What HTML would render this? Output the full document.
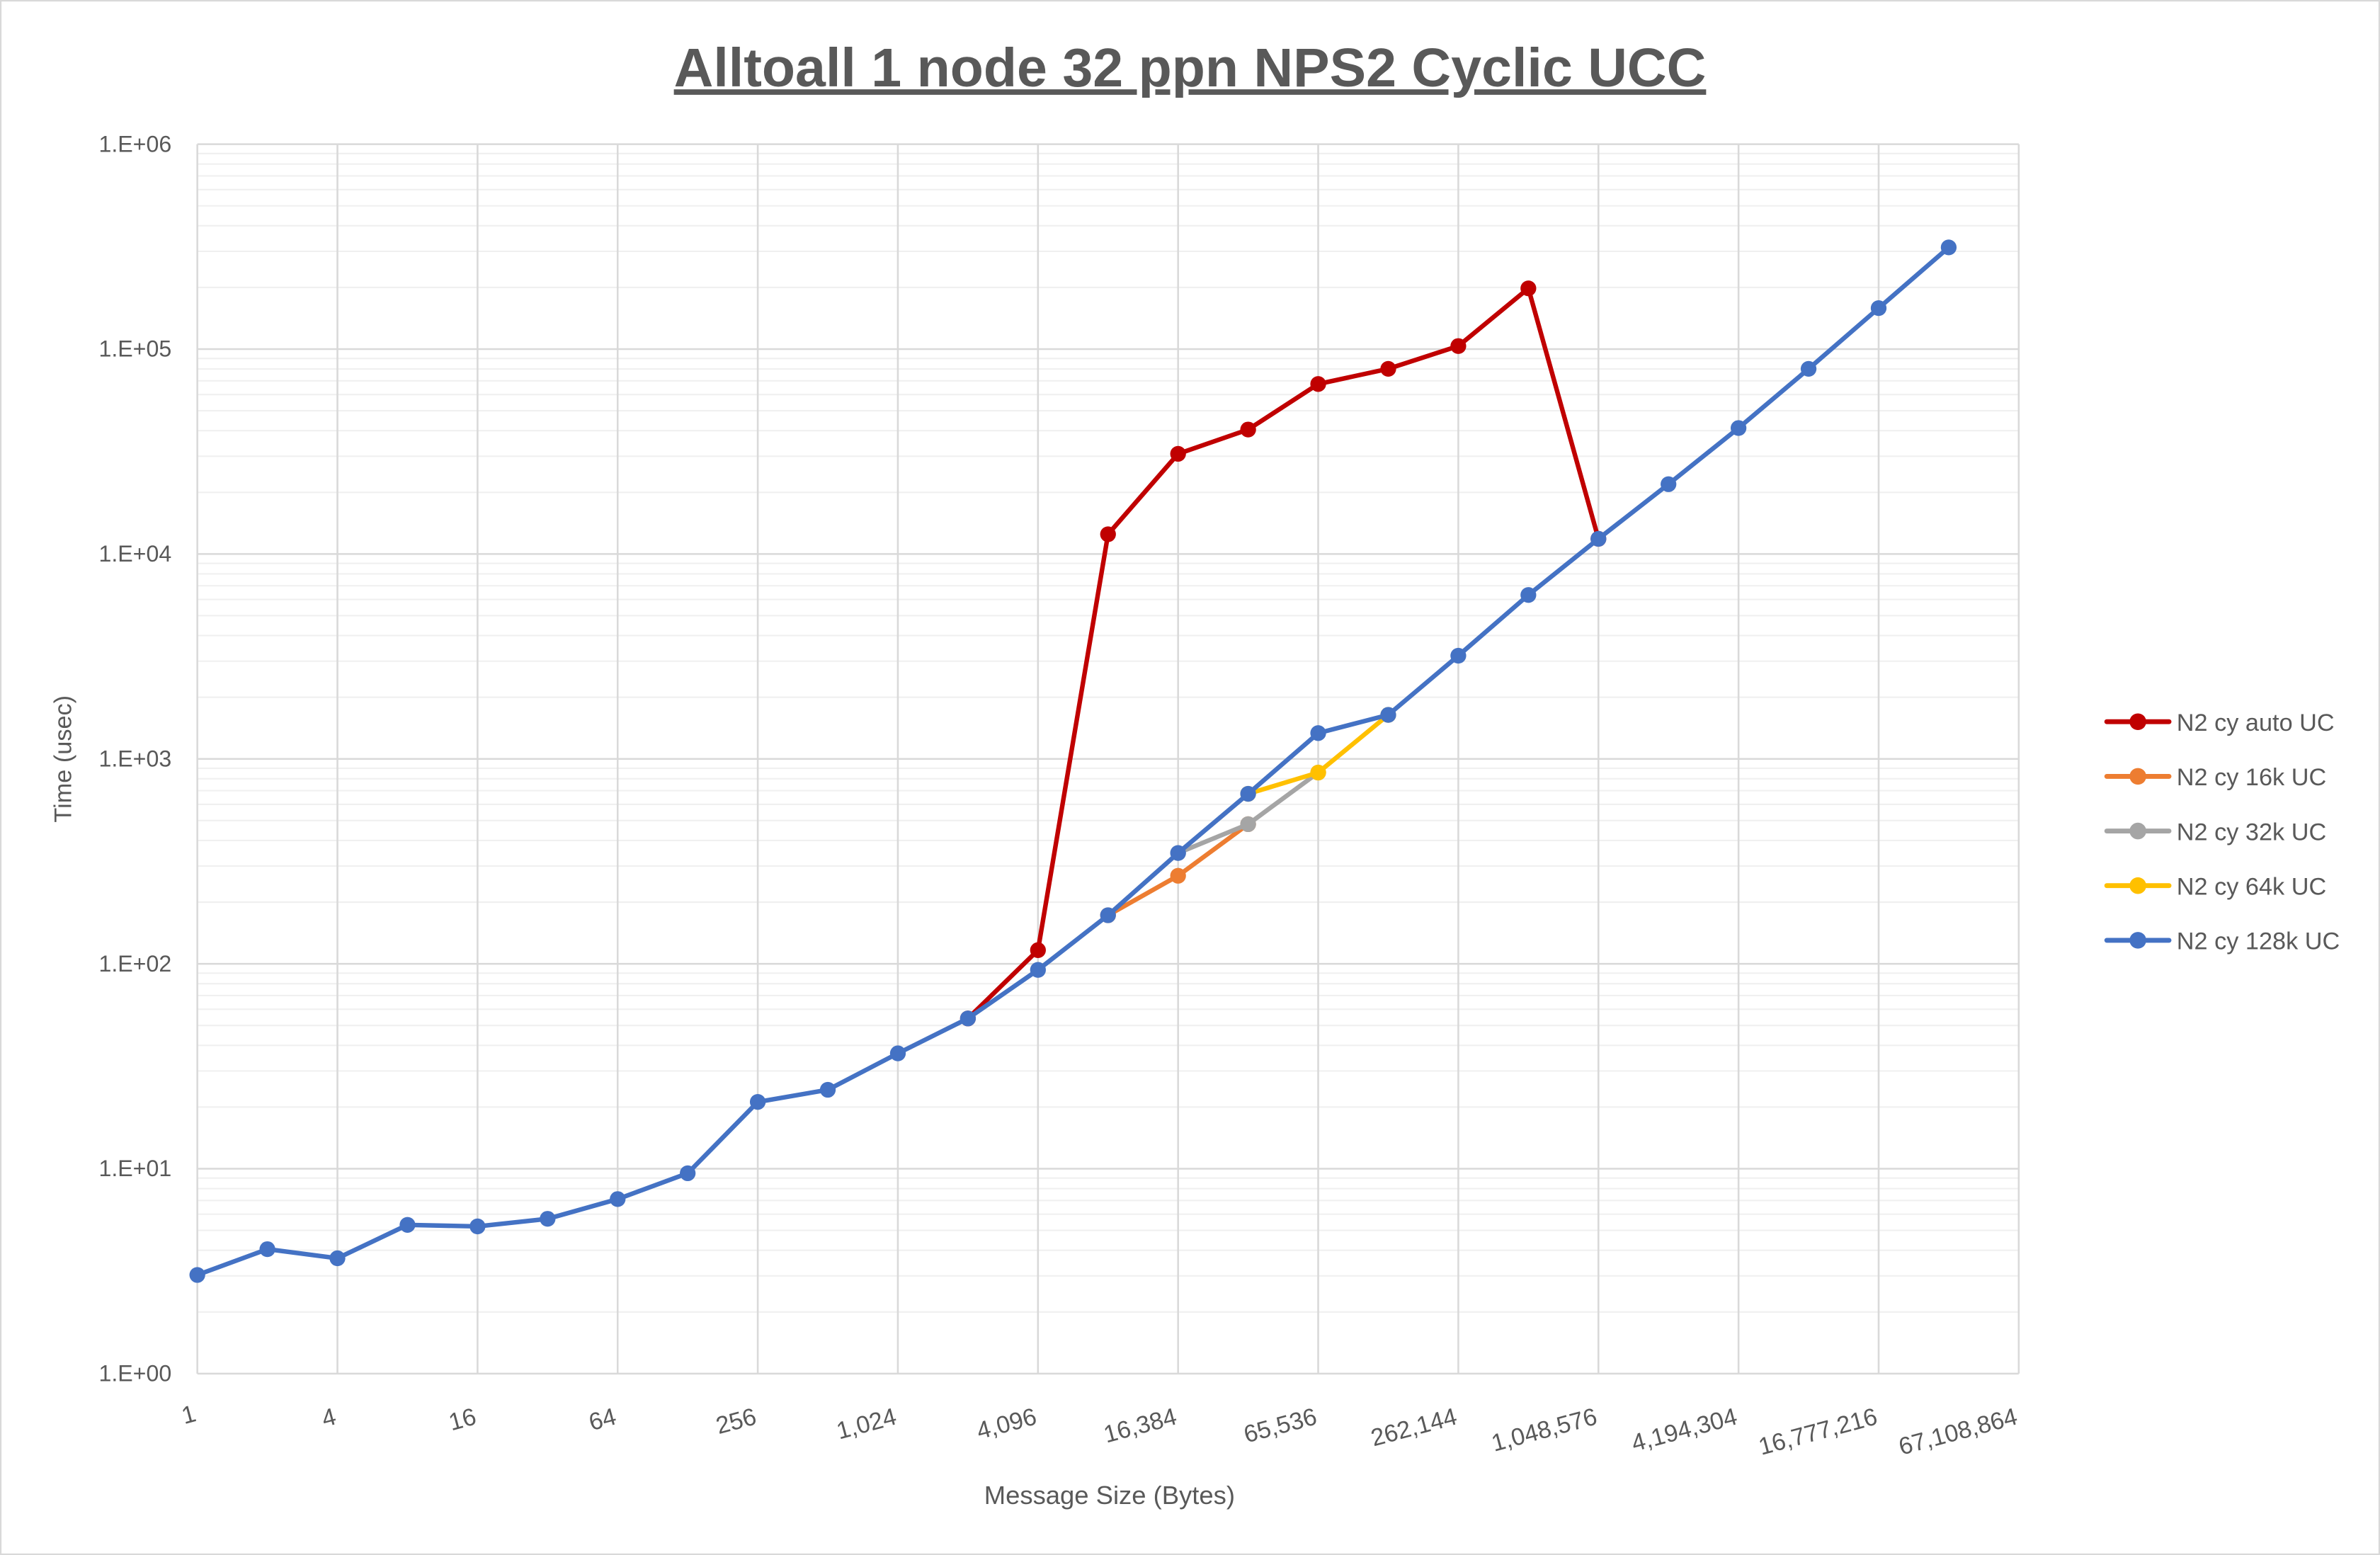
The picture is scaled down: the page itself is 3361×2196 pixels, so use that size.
<!DOCTYPE html>
<html><head><meta charset="utf-8"><style>
html,body{margin:0;padding:0;background:#fff}
svg{display:block}
text{font-family:"Liberation Sans",sans-serif;fill:#595959}
</style></head><body>
<svg id="c" width="3361" height="2196" viewBox="0 0 1568 1024.5" preserveAspectRatio="none" xmlns="http://www.w3.org/2000/svg">
<rect x="0.5" y="0.5" width="1567" height="1023.5" fill="#fff" stroke="#d9d9d9" stroke-width="1"/>
<text x="784" y="57" font-size="36" font-weight="bold" text-anchor="middle" text-decoration="underline">Alltoall 1 node 32 ppn NPS2 Cyclic UCC</text>
<g id="grid"></g>
<g id="series"></g>
<text transform="translate(47,500) rotate(-90)" font-size="16" text-anchor="middle">Time (usec)</text>
<text x="731" y="991" font-size="17" text-anchor="middle">Message Size (Bytes)</text>
<g id="leg"></g>
</svg>
<script>
const NS="http://www.w3.org/2000/svg";
function el(p,t,a,txt){const e=document.createElementNS(NS,t);for(const k in a)e.setAttribute(k,a[k]);if(txt!==undefined)e.textContent=txt;p.appendChild(e);return e;}
const g=document.getElementById('grid'),s=document.getElementById('series'),L=document.getElementById('leg');
const X0=130,X1=1330,Y0=905,D=135,step=(X1-X0)/26;
for(let d=0;d<6;d++)for(let m=2;m<10;m++){const y=Y0-D*(d+Math.log10(m));el(g,'line',{x1:X0,x2:X1,y1:y,y2:y,stroke:'#f0f0f0','stroke-width':1});}
for(let d=0;d<=6;d++){const y=Y0-D*d;el(g,'line',{x1:X0,x2:X1,y1:y,y2:y,stroke:'#d9d9d9','stroke-width':1.2});
 el(g,'text',{x:113,y:y+5,'font-size':15,'text-anchor':'end'},'1.E+0'+d);}
const xl=['1','4','16','64','256','1,024','4,096','16,384','65,536','262,144','1,048,576','4,194,304','16,777,216','67,108,864'];
for(let i=0;i<=13;i++){const x=X0+i*2*step;el(g,'line',{x1:x,x2:x,y1:Y0-D*6,y2:Y0,stroke:'#d9d9d9','stroke-width':1.2});
 el(g,'text',{transform:`translate(${x+(i==0?0:0)},${i==0?936:938}) rotate(-15)`,'font-size':16,'text-anchor':'end'},xl[i]);}
const blue=[840,823,829,807,808,803,790,773,726,718,694,671,639,603,562,523,483,471,432,392,355,319,282,243,203,163];
const ser=[
 {c:'#c00000',n:'N2 cy auto UC',p:[[11,671],[12,626],[13,352],[14,299],[15,283],[16,253],[17,243],[18,228],[19,190],[20,355]]},
 {c:'#ed7d31',n:'N2 cy 16k UC',p:[[13,603],[14,577],[15,543]]},
 {c:'#a5a5a5',n:'N2 cy 32k UC',p:[[14,562],[15,543],[16,509]]},
 {c:'#ffc000',n:'N2 cy 64k UC',p:[[15,523],[16,509],[17,471]]},
 {c:'#4472c4',n:'N2 cy 128k UC',p:blue.map((y,i)=>[i,y])}];
ser.forEach((o,k)=>{
 el(s,'polyline',{points:o.p.map(q=>(X0+q[0]*step)+','+q[1]).join(' '),fill:'none',stroke:o.c,'stroke-width':3,'stroke-linejoin':'round'});
 o.p.forEach(q=>el(s,'circle',{cx:X0+q[0]*step,cy:q[1],r:5.2,fill:o.c}));
 const y=475.5+k*36;
 el(L,'line',{x1:1388,x2:1429,y1:y,y2:y,stroke:o.c,'stroke-width':3.2,'stroke-linecap':'round'});
 el(L,'circle',{cx:1408.5,cy:y,r:5.5,fill:o.c});
 el(L,'text',{x:1434,y:y+6,'font-size':16},o.n);
});
</script>
</body></html>
